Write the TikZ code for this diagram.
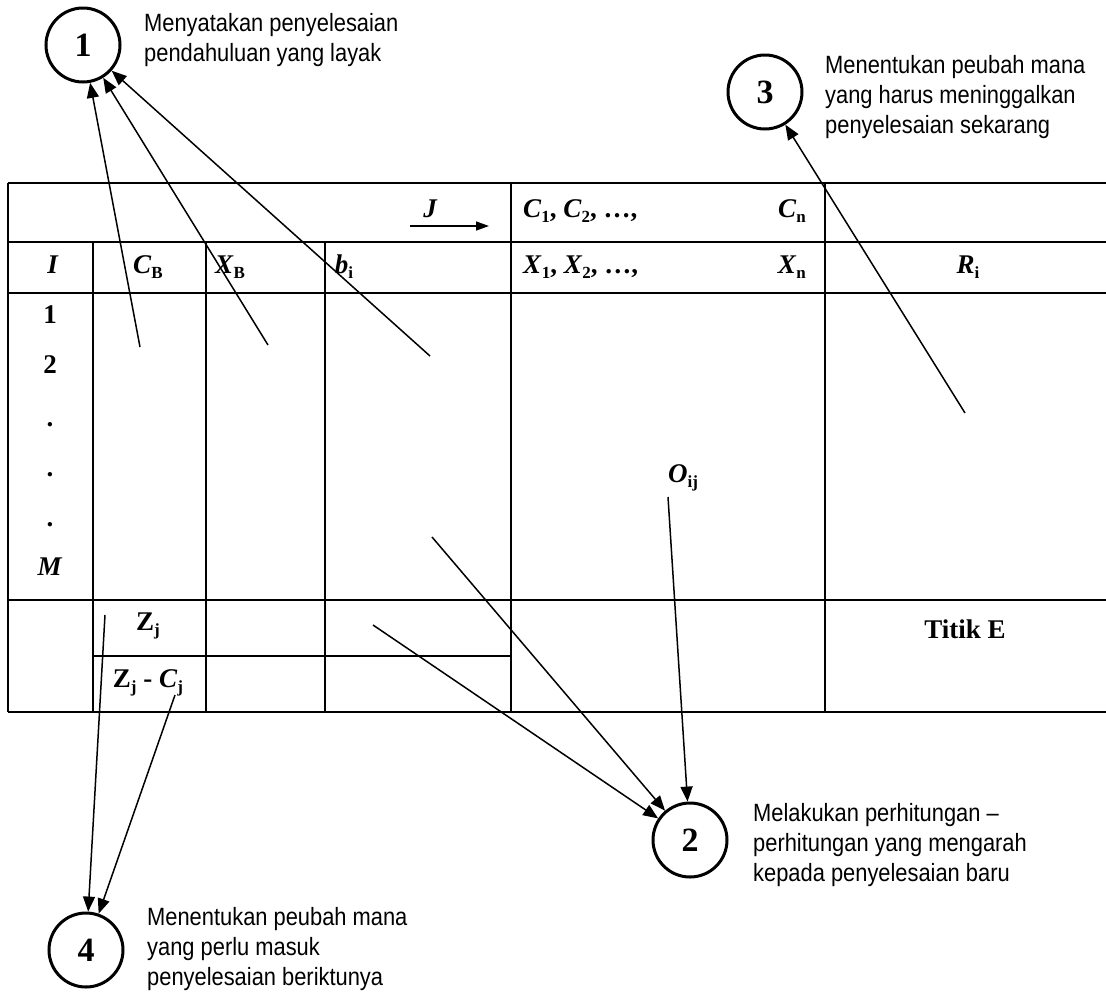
\documentclass[tikz,border=0pt]{standalone}
\usepackage{fontspec}
\setmainfont{Liberation Serif}
\newfontfamily\descfont[FakeStretch=0.875]{Liberation Sans}
\usetikzlibrary{arrows.meta}
\newcommand\sv[2]{\textbf{\textit{#1}}\raisebox{-0.22em}{\fontsize{17}{17}\selectfont\bfseries #2}}
\newcommand\su[2]{\textbf{#1}\raisebox{-0.22em}{\fontsize{17}{17}\selectfont\bfseries #2}}
\begin{document}
\begin{tikzpicture}[x=1pt,y=-1pt,
  tab/.style={line width=2.4pt},
  cell/.style={inner sep=0pt, anchor=base, font=\fontsize{27}{27}\selectfont\bfseries},
  num/.style={circle, draw, line width=3pt, minimum size=74pt, inner sep=0pt, font=\fontsize{34}{34}\selectfont\bfseries},
  desc/.style={align=left, anchor=west, inner sep=0pt, font=\descfont\fontsize{25}{30}\selectfont},
  arr/.style={line width=1.5pt, -{Triangle[length=15pt,width=12pt]}},
]
\useasboundingbox (0,0) rectangle (1106,991);
% table
\draw[tab] (8,183) -- (1106,183);
\draw[tab] (8,242) -- (1106,242);
\draw[tab] (8,293) -- (1106,293);
\draw[tab] (8,600) -- (1106,600);
\draw[tab] (93,656) -- (511,656);
\draw[tab] (8,712) -- (1106,712);
\draw[tab] (8,183) -- (8,712);
\draw[tab] (93,242) -- (93,712);
\draw[tab] (206,242) -- (206,712);
\draw[tab] (325,242) -- (325,712);
\draw[tab] (511,183) -- (511,712);
\draw[tab] (825,183) -- (825,712);
% header
\node[cell, font=\fontsize{27}{27}\selectfont\bfseries\itshape] (J) at (430,217) {J};
\coordinate (ja) at (410,226);
\coordinate (jb) at (489,226);
\draw[arr, -{Triangle[length=13pt,width=9pt]}] (ja) -- (jb);
\node[cell, anchor=base west] (C1) at (523,217) {\sv{C}{1}, \sv{C}{2}, …,};
\node[cell, anchor=base east] (Cn) at (806,217) {\sv{C}{n}};
\node[cell] (I) at (53,273) {\textit{I}};
\node[cell] (CB) at (148,273) {\sv{C}{B}};
\node[cell] (XB) at (230,273) {\sv{X}{B}};
\node[cell] (bi) at (344,273) {\sv{b}{i}};
\node[cell, anchor=base west] (X1) at (523,273) {\sv{X}{1}, \sv{X}{2}, …,};
\node[cell, anchor=base east] (Xn) at (806,273) {\sv{X}{n}};
\node[cell] (Ri) at (968,273) {\sv{R}{i}};
% column I
\node[cell] (r1) at (50,323) {1};
\node[cell] (r2) at (50,373) {2};
\node[cell] (d1) at (50,426) {.};
\node[cell] (d2) at (50,476) {.};
\node[cell] (d3) at (50,526) {.};
\node[cell] (rM) at (50,575) {\textit{M}};
\node[cell] (Oij) at (683,482) {\sv{O}{ij}};
\node[cell] (Zj) at (148,630) {\su{Z}{j}};
\node[cell] (ZC) at (148,687) {\su{Z}{j} - \sv{C}{j}};
\node[cell] (TE) at (965,638) {Titik E};
% circles
\node[num] (n1) at (83,45) {1};
\node[num] (n3) at (765,92) {3};
\node[num] (n2) at (690,840) {2};
\node[num] (n4) at (86,950) {4};
\node[desc] (t1) at (144,40) {Menyatakan penyelesaian\\pendahuluan yang layak};
\node[desc] (t3) at (825,97) {Menentukan peubah mana\\yang harus meninggalkan\\penyelesaian sekarang};
\node[desc] (t2) at (753,845) {Melakukan perhitungan –\\perhitungan yang mengarah\\kepada penyelesaian baru};
\node[desc] (t4) at (147,949) {Menentukan peubah mana\\yang perlu masuk\\penyelesaian beriktunya};
% connector start points
\coordinate (s1) at (140,347);
\coordinate (s2) at (268,345);
\coordinate (s3) at (430,356);
\coordinate (s4) at (965,413);
\coordinate (s5) at (432,537);
\coordinate (s6) at (373,625);
\coordinate (s7) at (668,497);
\coordinate (s8) at (105,615);
\coordinate (s9) at (175,695);
\draw[arr] (s1) -- (n1);
\draw[arr] (s2) -- (n1);
\draw[arr] (s3) -- (n1);
\draw[arr] (s4) -- (n3);
\draw[arr] (s5) -- (n2);
\draw[arr] (s6) -- (n2);
\draw[arr] (s7) -- (n2);
\draw[arr] (s8) -- (n4);
\draw[arr] (s9) -- (n4);
\end{tikzpicture}
\end{document}
